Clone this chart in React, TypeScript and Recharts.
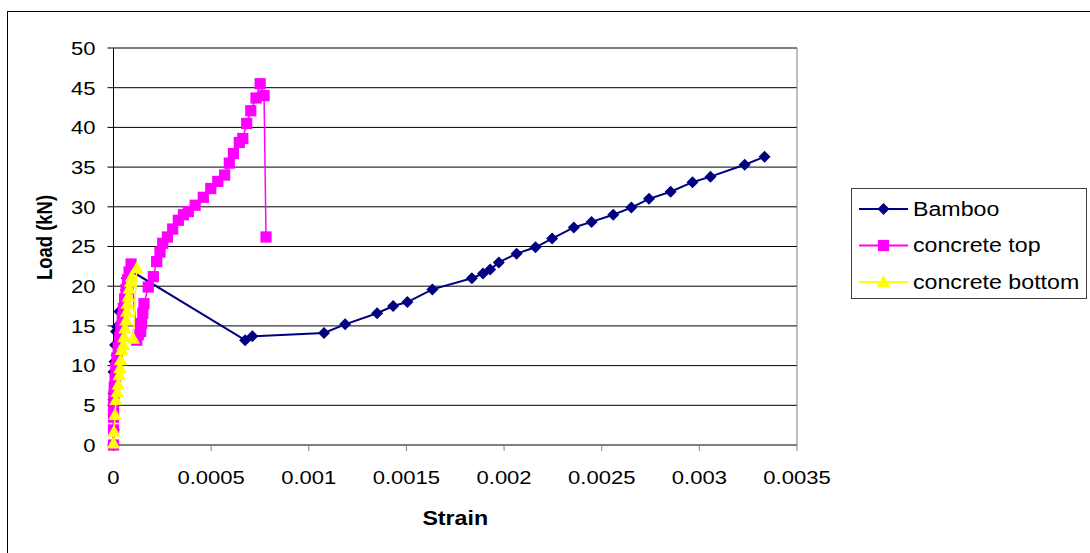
import React from 'react';
import { ScatterChart, Scatter, XAxis, YAxis, CartesianGrid, ReferenceLine, Legend } from 'recharts';

const FONT = '"Liberation Sans", Arial, Helvetica, sans-serif';
const WIDE = 1.16; // horizontal stretch of all lettering

const strainTicks = [0, 0.0005, 0.001, 0.0015, 0.002, 0.0025, 0.003, 0.0035];
const loadTicks = [0, 5, 10, 15, 20, 25, 30, 35, 40, 45, 50];

const bambooStrain = [
  0, 0.000002, 0, 0, 0, 0, 0.000005, 0.000016, 0.000008, 0.000013, 0.000018, 0.00003, 0.00005,
  0.000064, 0.000068, 0.000085, 0.000674, 0.000711, 0.001078, 0.001186, 0.00135, 0.001432,
  0.001505, 0.001633, 0.001835, 0.001892, 0.001929, 0.001973, 0.002064, 0.002161, 0.002246,
  0.002357, 0.002448, 0.002559, 0.002652, 0.002742, 0.002853, 0.002965, 0.003057, 0.003232,
  0.003334,
];
const bambooLoad = [
  0, 1.9, 3.8, 5.7, 6.5, 9.2, 10.5, 11.3, 12.6, 14.3, 14.9, 16.8, 17.2, 19.5, 21.0, 22.0, 13.2,
  13.7, 14.1, 15.2, 16.6, 17.5, 18.0, 19.6, 21.0, 21.6, 22.1, 23.0, 24.1, 24.9, 26.0, 27.4, 28.1,
  29.0, 29.9, 31.0, 31.9, 33.1, 33.8, 35.3, 36.3,
];

const topStrain = [
  0, 0, 0, 0, 0.000002, 0.000004, 0.000008, 0.000012, 0.000018, 0.000024, 0.000032, 0.000038,
  0.000045, 0.00005, 0.000057, 0.000064, 0.000072, 0.00008, 0.00009, 0.000119, 0.000127,
  0.000139, 0.000144, 0.00015, 0.000156, 0.000178, 0.000204, 0.000221, 0.000238, 0.000252,
  0.000276, 0.000303, 0.000332, 0.000358, 0.000383, 0.000418, 0.00046, 0.000498, 0.000534,
  0.000569, 0.000593, 0.000614, 0.000644, 0.000662, 0.000682, 0.000703, 0.00073, 0.000751,
  0.000771, 0.000781,
];
const topLoad = [
  0, 1.9, 3.5, 4.8, 6.2, 7.3, 8.4, 9.8, 11.0, 12.3, 13.6, 14.8, 16.0, 17.2, 18.4, 19.6, 20.8,
  21.8, 22.8, 13.2, 13.9, 14.3, 15.3, 16.6, 17.8, 19.9, 21.2, 23.1, 24.3, 25.4, 26.2, 27.2, 28.3,
  29.0, 29.4, 30.2, 31.2, 32.3, 33.2, 34.0, 35.5, 36.7, 38.1, 38.6, 40.5, 42.1, 43.7, 45.5, 44.0,
  26.2,
];

const bottomStrain = [
  0, 0.0000026, 0.0000077, 0.0000128, 0.0000195, 0.0000246, 0.0000297, 0.0000333, 0.0000369,
  0.000042, 0.00005, 0.000054, 0.000059, 0.000064, 0.000068, 0.000071, 0.000076, 0.000081,
  0.000088, 0.000093, 0.000119, 0.000101,
];
const bottomLoad = [
  0.2, 1.7, 3.8, 5.7, 6.7, 7.6, 8.8, 9.7, 10.7, 12.0, 12.6, 13.6, 14.7, 15.7, 16.8, 17.8, 18.7,
  19.7, 20.6, 21.2, 22.3, 13.4,
];

const seriesNames = ['Bamboo', 'concrete top', 'concrete bottom'];
const seriesColors = ['#000080', '#FF00FF', '#FFFF00'];
const seriesMarkers = ['diamond', 'square', 'triangle'];

const pairs = (xs: number[], ys: number[]) => xs.map((x, i) => ({ strain: x, load: ys[i] }));

const bambooData = pairs(bambooStrain, bambooLoad);
const topData = pairs(topStrain, topLoad);
const bottomData = pairs(bottomStrain, bottomLoad);

type WideTextProps = {
  x: number;
  y: number;
  size: number;
  anchor?: 'start' | 'middle' | 'end';
  bold?: boolean;
  vertical?: boolean;
  children: React.ReactNode;
};

function WideText({ x, y, size, anchor = 'start', bold = false, vertical = false, children }: WideTextProps) {
  const transform = vertical
    ? `translate(${x},${y}) scale(${WIDE},1) rotate(-90)`
    : `translate(${x},${y}) scale(${WIDE},1)`;
  return (
    <text
      transform={transform}
      textAnchor={anchor}
      fontFamily={FONT}
      fontSize={size}
      fontWeight={bold ? 'bold' : 'normal'}
      fill="#000"
    >
      {children}
    </text>
  );
}

function Marker({ kind, cx, cy, color }: { kind: string; cx: number; cy: number; color: string }) {
  if (kind === 'diamond') {
    const h = 6;
    return <path d={`M${cx},${cy - h}L${cx + h},${cy}L${cx},${cy + h}L${cx - h},${cy}Z`} fill={color} />;
  }
  if (kind === 'square') {
    const h = 5.6;
    return <rect x={cx - h} y={cy - h} width={2 * h} height={2 * h} fill={color} />;
  }
  return <path d={`M${cx},${cy - 6.8}L${cx + 6.8},${cy + 5.2}L${cx - 6.8},${cy + 5.2}Z`} fill={color} />;
}

const XTick = (props: any) => {
  const { x, y, payload } = props;
  return (
    <WideText x={x} y={y + 30.5} size={19} anchor="middle">
      {String(payload.value)}
    </WideText>
  );
};

const YTick = (props: any) => {
  const { x, y, payload } = props;
  return (
    <WideText x={x} y={y + 6.8} size={19} anchor="end">
      {String(payload.value)}
    </WideText>
  );
};

const StrainTitle = (props: any) => {
  const vb = props.viewBox;
  return (
    <WideText x={vb.x + vb.width / 2} y={vb.y + 80} size={20} anchor="middle" bold>
      Strain
    </WideText>
  );
};

const LoadTitle = (props: any) => {
  const vb = props.viewBox;
  return (
    <WideText x={vb.x - 1.5} y={vb.y + vb.height / 2 - 9} size={18.5} anchor="middle" bold vertical>
      Load (kN)
    </WideText>
  );
};

const LegendBox = () => (
  <svg width={236} height={111} style={{ display: 'block' }}>
    <rect x={0.5} y={0.5} width={235} height={110} fill="#fff" stroke="#404040" strokeWidth={1} />
    {seriesNames.map((name, i) => {
      const y = 21 + i * 36.5;
      return (
        <g key={name}>
          <line x1={8} x2={57} y1={y} y2={y} stroke={seriesColors[i]} strokeWidth={2} />
          <Marker kind={seriesMarkers[i]} cx={32.5} cy={y} color={seriesColors[i]} />
          <WideText x={62} y={y + 6.5} size={20}>
            {name}
          </WideText>
        </g>
      );
    })}
  </svg>
);

export default function App() {
  return (
    <div
      style={{
        position: 'absolute',
        left: 0,
        top: 0,
        width: 1090,
        height: 553,
        overflow: 'hidden',
        background: '#fff',
      }}
    >
      <div
        style={{
          position: 'absolute',
          left: 7,
          top: 11,
          right: -10,
          bottom: -10,
          borderTop: '1px solid #000',
          borderLeft: '1px solid #000',
        }}
      />
      <ScatterChart width={1090} height={553} margin={{ top: 48, right: 293, bottom: 48, left: 53.5 }}>
        <CartesianGrid vertical={false} stroke="#000" strokeOpacity={1} />
        <ReferenceLine y={50} stroke="#808080" strokeWidth={1} />
        <ReferenceLine x={0.0035} stroke="#808080" strokeWidth={1} />
        <XAxis
          type="number"
          dataKey="strain"
          domain={[0, 0.0035]}
          ticks={strainTicks}
          interval={0}
          height={60}
          tickSize={6}
          tickMargin={2}
          axisLine={{ stroke: '#808080' }}
          tickLine={{ stroke: '#808080' }}
          tick={<XTick />}
          label={StrainTitle}
        />
        <YAxis
          type="number"
          dataKey="load"
          domain={[0, 50]}
          ticks={loadTicks}
          interval={0}
          width={60}
          tickSize={6}
          tickMargin={12}
          axisLine={{ stroke: '#000' }}
          tickLine={{ stroke: '#000' }}
          tick={<YTick />}
          label={LoadTitle}
        />
        <Scatter
          name={seriesNames[0]}
          data={bambooData}
          line={{ stroke: seriesColors[0], strokeWidth: 2 }}
          lineType="joint"
          isAnimationActive={false}
          shape={(p: any) => <Marker kind="diamond" cx={p.cx} cy={p.cy} color={seriesColors[0]} />}
        />
        <Scatter
          name={seriesNames[1]}
          data={topData}
          line={{ stroke: seriesColors[1], strokeWidth: 1.5 }}
          lineType="joint"
          isAnimationActive={false}
          shape={(p: any) => <Marker kind="square" cx={p.cx} cy={p.cy} color={seriesColors[1]} />}
        />
        <Scatter
          name={seriesNames[2]}
          data={bottomData}
          line={{ stroke: seriesColors[2], strokeWidth: 1.5 }}
          lineType="joint"
          isAnimationActive={false}
          shape={(p: any) => <Marker kind="triangle" cx={p.cx} cy={p.cy} color={seriesColors[2]} />}
        />
        <Legend
          layout="horizontal"
          verticalAlign="middle"
          align="center"
          wrapperStyle={{ left: 851, top: 188, width: 236, height: 111 }}
          content={() => <LegendBox />}
        />
      </ScatterChart>
    </div>
  );
}
